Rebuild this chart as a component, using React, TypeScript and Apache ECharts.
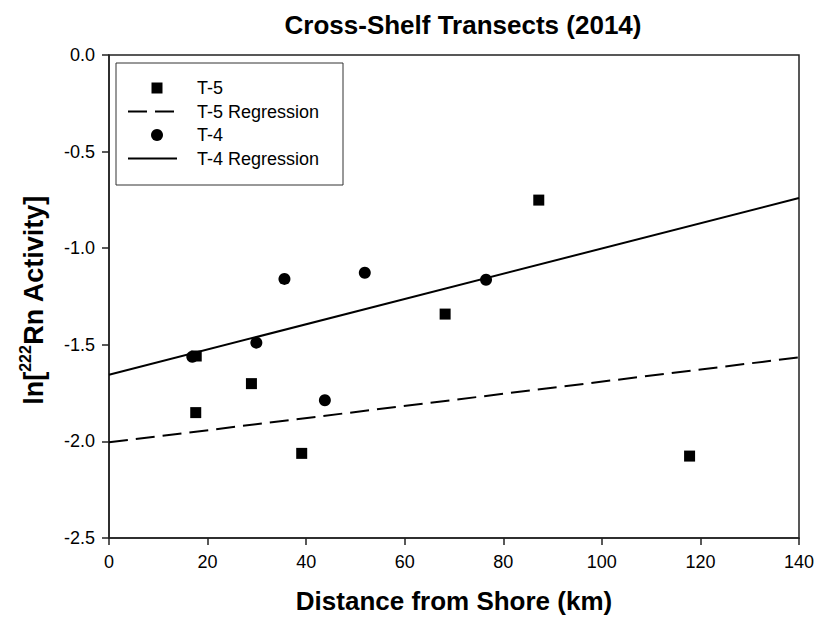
import React, { useEffect, useRef } from "react";
import * as echarts from "echarts";

// ---- data ----
const t5X = [17.6, 17.7, 28.9, 39.1, 68.2, 87.2, 117.8];
const t5Y = [-1.851, -1.558, -1.701, -2.062, -1.341, -0.751, -2.076];
const t4X = [16.9, 29.9, 35.6, 43.8, 51.9, 76.5];
const t4Y = [-1.562, -1.489, -1.159, -1.787, -1.127, -1.163];
const t5RegX = [0, 140];
const t5RegY = [-2.005, -1.565];
const t4RegX = [0, 140];
const t4RegY = [-1.655, -0.74];
const legendLabels = ["T-5", "T-5 Regression", "T-4", "T-4 Regression"];
const titleText = "Cross-Shelf Transects (2014)";
const xTitle = "Distance from Shore (km)";

const FONT = 'Arial, "Liberation Sans", sans-serif';
const zip = (xs: number[], ys: number[]) => xs.map((x, i) => [x, ys[i]]);

export default function App() {
  const ref = useRef<HTMLDivElement>(null);
  useEffect(() => {
    if (!ref.current) return;
    const chart = echarts.init(ref.current, null, { renderer: "svg" });
    const rowY = [88, 111.5, 135, 158.5];
    const legendGraphic: any[] = [
      {
        type: "rect",
        shape: { x: 116, y: 63, width: 227, height: 122 },
        style: { fill: "#fff", stroke: "#333", lineWidth: 1 },
        z: 100,
      },
      {
        type: "rect",
        shape: { x: 151.5, y: rowY[0] - 5.5, width: 11, height: 11 },
        style: { fill: "#000" },
        z: 101,
      },
      {
        type: "line",
        shape: { x1: 128, y1: rowY[1], x2: 177, y2: rowY[1] },
        style: { stroke: "#000", lineWidth: 2, lineDash: [19, 8] },
        z: 101,
      },
      {
        type: "circle",
        shape: { cx: 157, cy: rowY[2], r: 6 },
        style: { fill: "#000" },
        z: 101,
      },
      {
        type: "line",
        shape: { x1: 128, y1: rowY[3], x2: 177, y2: rowY[3] },
        style: { stroke: "#000", lineWidth: 2 },
        z: 101,
      },
      ...legendLabels.map((t, i) => ({
        type: "text",
        x: 197,
        y: rowY[i],
        style: {
          text: t,
          fontSize: 18,
          fontFamily: FONT,
          fill: "#000",
          verticalAlign: "middle",
          textAlign: "left",
        },
        z: 101,
      })),
    ];

    chart.setOption({
      animation: false,
      backgroundColor: "#fff",
      grid: {
        left: 109,
        top: 55,
        width: 690,
        height: 483,
        show: true,
        borderColor: "#222",
        borderWidth: 1.5,
        backgroundColor: "transparent",
      },
      xAxis: {
        type: "value",
        min: 0,
        max: 140,
        interval: 20,
        axisLine: { show: true, onZero: false, lineStyle: { color: "#222", width: 1.5 } },
        axisTick: { show: true, inside: false, length: 7, lineStyle: { color: "#222", width: 1.5 } },
        splitLine: { show: false },
        axisLabel: { color: "#000", fontSize: 18, fontFamily: FONT, margin: 15 },
      },
      yAxis: {
        type: "value",
        min: -2.5,
        max: 0,
        interval: 0.5,
        axisLine: { show: true, onZero: false, lineStyle: { color: "#222", width: 1.5 } },
        axisTick: { show: true, inside: false, length: 7, lineStyle: { color: "#222", width: 1.5 } },
        splitLine: { show: false },
        axisLabel: {
          color: "#000",
          fontSize: 18,
          fontFamily: FONT,
          margin: 14,
          formatter: (v: number) => v.toFixed(1),
        },
      },
      graphic: [
        {
          type: "text",
          x: 463,
          y: 25,
          style: {
            text: titleText,
            fontSize: 26,
            fontWeight: "bold",
            fontFamily: FONT,
            fill: "#000",
            textAlign: "center",
            verticalAlign: "middle",
          },
        },
        {
          type: "text",
          x: 454,
          y: 601,
          style: {
            text: xTitle,
            fontSize: 26,
            fontWeight: "bold",
            fontFamily: FONT,
            fill: "#000",
            textAlign: "center",
            verticalAlign: "middle",
          },
        },
        {
          type: "text",
          x: 32,
          y: 300,
          rotation: Math.PI / 2,
          style: {
            text: "{b|ln[}{s|222}{b|Rn Activity]}",
            fontFamily: FONT,
            textAlign: "center",
            verticalAlign: "middle",
            rich: {
              b: { fontSize: 27, fontWeight: "bold", fontFamily: FONT, fill: "#000", lineHeight: 30, verticalAlign: "bottom" },
              s: { fontSize: 16, fontWeight: "bold", fontFamily: FONT, fill: "#000", lineHeight: 30, verticalAlign: "top" },
            },
          },
        },
        ...legendGraphic,
      ],
      series: [
        {
          name: legendLabels[0],
          type: "scatter",
          data: zip(t5X, t5Y),
          symbol: "rect",
          symbolSize: 11,
          itemStyle: { color: "#000", opacity: 1 },
          z: 5,
        },
        {
          name: legendLabels[1],
          type: "line",
          data: zip(t5RegX, t5RegY),
          showSymbol: false,
          symbol: "none",
          lineStyle: { color: "#000", width: 2, type: [19, 8] },
          z: 3,
        },
        {
          name: legendLabels[2],
          type: "scatter",
          data: zip(t4X, t4Y),
          symbol: "circle",
          symbolSize: 12,
          itemStyle: { color: "#000", opacity: 1 },
          z: 5,
        },
        {
          name: legendLabels[3],
          type: "line",
          data: zip(t4RegX, t4RegY),
          showSymbol: false,
          symbol: "none",
          lineStyle: { color: "#000", width: 2, type: "solid" },
          z: 3,
        },
      ],
    });
    return () => chart.dispose();
  }, []);
  return (
    <div
      ref={ref}
      style={{ position: "fixed", left: 0, top: 0, width: 820, height: 628, background: "#fff" }}
    />
  );
}
